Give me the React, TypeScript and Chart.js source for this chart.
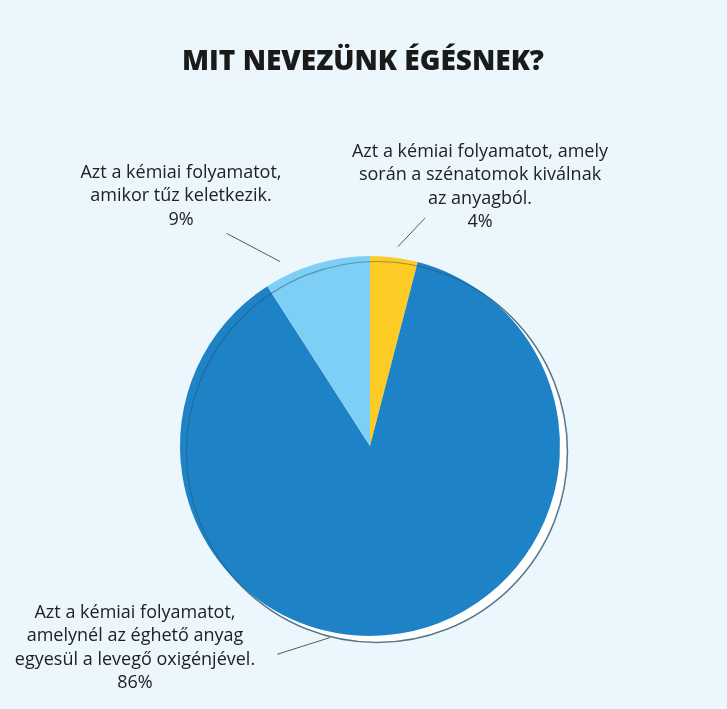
import React, { useEffect, useRef } from "react";
import { Chart, registerables } from "chart.js";

Chart.register(...registerables);

const TITLE = "MIT NEVEZÜNK ÉGÉSNEK?";

const categories: string[][] = [
  ["Azt a kémiai folyamatot, amely", "során a szénatomok kiválnak", "az anyagból."],
  ["Azt a kémiai folyamatot,", "amelynél az éghető anyag", "egyesül a levegő oxigénjével."],
  ["Azt a kémiai folyamatot,", "amikor tűz keletkezik."],
];
const values = [4, 86, 9];
const sliceColors = ["#FDCB25", "#1E83C6", "#7ECFF5"];

const BG = "#EBF6FD";
const W = 727;
const H = 709;

// label layout: text block center x, first line center y; connector (angle deg from top, radius factor)
const labelLayout = [
  { x: 480, y: 152, a1: 8, r1: 1.06, a2: 13.6, r2: 1.235 },
  { x: 135, y: 613, a1: 191.8, r1: 1.03, a2: 204, r2: 1.2 },
  { x: 181, y: 173, a1: -26, r1: 1.08, a2: -34, r2: 1.35 },
];

const ringPlugin = {
  id: "ring",
  beforeDatasetsDraw(chart: any) {
    const arc = chart.getDatasetMeta(0).data[0];
    if (!arc) return;
    const { x, y, outerRadius } = arc;
    const ctx = chart.ctx;
    ctx.save();
    ctx.beginPath();
    ctx.arc(x + 7, y + 6, outerRadius + 0.5, 0, Math.PI * 2);
    ctx.fillStyle = "#ffffff";
    ctx.fill();
    ctx.lineWidth = 1.5;
    ctx.strokeStyle = "#7896ab";
    ctx.stroke();
    ctx.restore();
  },
  afterDatasetsDraw(chart: any) {
    const arc = chart.getDatasetMeta(0).data[0];
    if (!arc) return;
    const { x, y, outerRadius } = arc;
    const ctx = chart.ctx;
    ctx.save();
    ctx.beginPath();
    ctx.arc(x + 7, y + 6, outerRadius + 0.5, 0, Math.PI * 2);
    ctx.lineWidth = 1.2;
    ctx.strokeStyle = "rgba(40,75,100,0.45)";
    ctx.stroke();
    ctx.restore();
  },
};

const labelPlugin = {
  id: "labels",
  afterDraw(chart: any) {
    const ctx = chart.ctx;
    const arc = chart.getDatasetMeta(0).data[0];
    if (!arc) return;
    const { x: cx, y: cy, outerRadius: r } = arc;
    ctx.save();
    // title
    ctx.fillStyle = "#1a1a1a";
    ctx.font = '800 28px "Open Sans"';
    ctx.textAlign = "center";
    ctx.textBaseline = "middle";
    ctx.fillText(TITLE, 363, 62);

    ctx.font = '18px "Open Sans"';
    ctx.fillStyle = "#222222";
    values.forEach((v, i) => {
      const L = labelLayout[i];
      const lines = [...categories[i], v + "%"];
      lines.forEach((t, k) => ctx.fillText(t, L.x, L.y + k * 23.3));
      const p1 = (L.a1 * Math.PI) / 180;
      const p2 = (L.a2 * Math.PI) / 180;
      ctx.beginPath();
      ctx.moveTo(cx + Math.sin(p1) * r * L.r1, cy - Math.cos(p1) * r * L.r1);
      ctx.lineTo(cx + Math.sin(p2) * r * L.r2, cy - Math.cos(p2) * r * L.r2);
      ctx.lineWidth = 1;
      ctx.strokeStyle = "#5a5a5a";
      ctx.stroke();
    });
    ctx.restore();
  },
};

export default function App() {
  const ref = useRef<HTMLCanvasElement | null>(null);
  useEffect(() => {
    if (!ref.current) return;
    const chart = new Chart(ref.current, {
      type: "pie",
      data: {
        labels: categories.map((c) => c.join(" ")),
        datasets: [
          {
            data: values,
            backgroundColor: sliceColors,
            borderWidth: 0,
          },
        ],
      },
      options: {
        responsive: false,
        animation: false,
        layout: { padding: { left: 180, right: 167, top: 256, bottom: 73 } },
        plugins: { legend: { display: false }, tooltip: { enabled: false } },
      },
      plugins: [ringPlugin, labelPlugin],
    });
    return () => chart.destroy();
  }, []);
  return (
    <div style={{ position: "fixed", left: 0, top: 0, width: W, height: H, background: BG }}>
      <canvas ref={ref} width={W} height={H} style={{ width: W, height: H, display: "block" }} />
    </div>
  );
}
